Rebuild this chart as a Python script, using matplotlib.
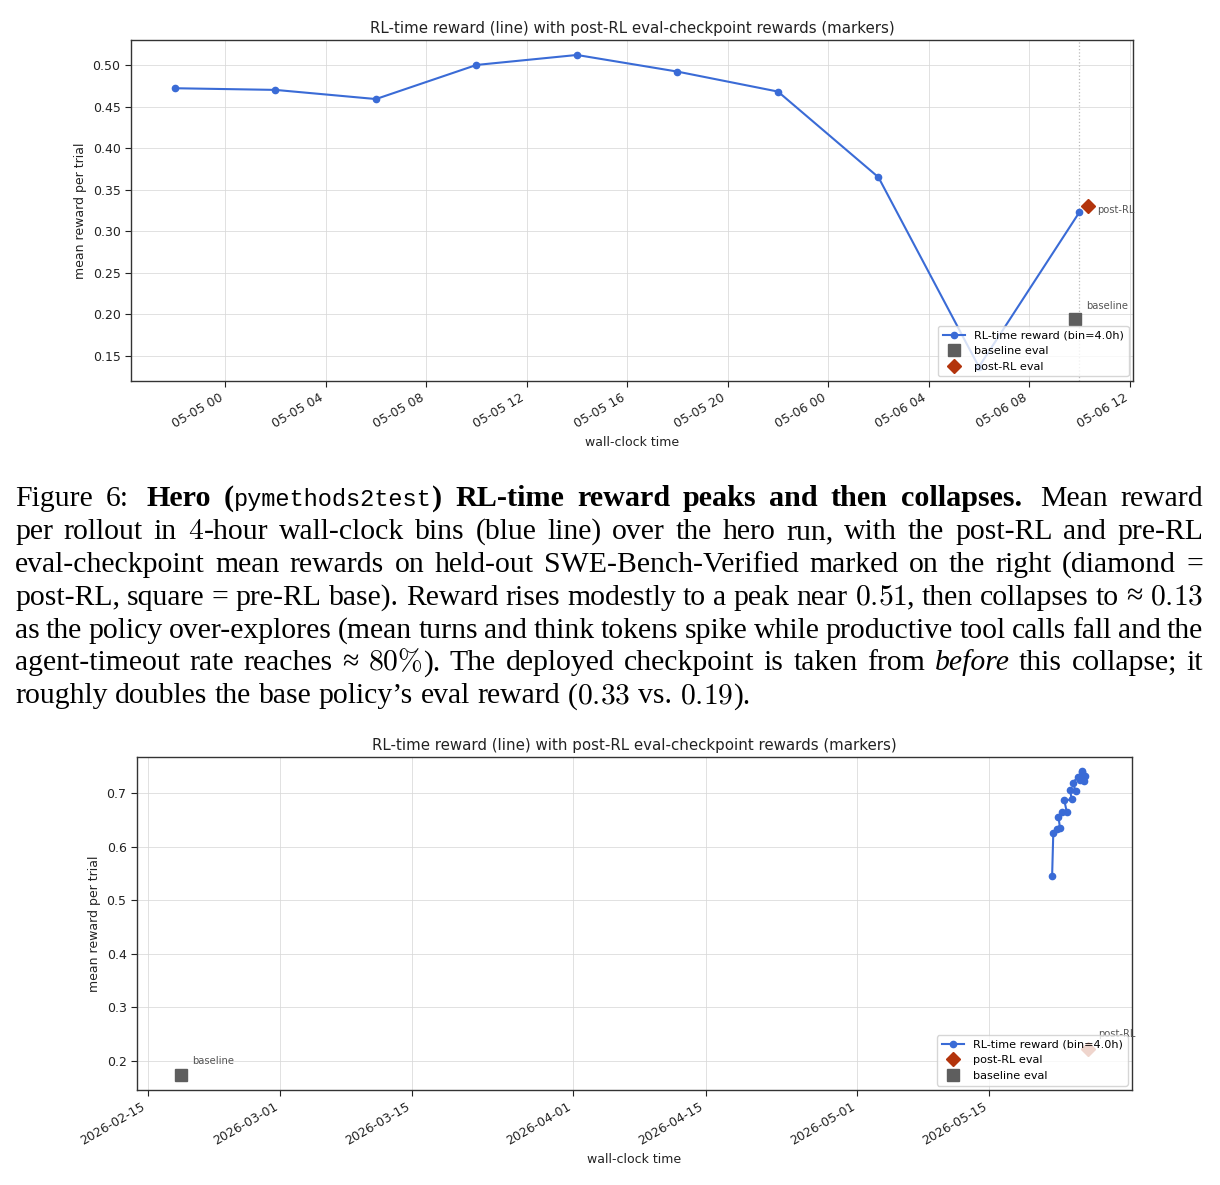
import matplotlib
matplotlib.use("Agg")
import matplotlib.pyplot as plt
import matplotlib.dates as mdates
import pandas as pd

# ── Data: hero run (top panel) ───────────────────────────────────────────────
TOP_RL_TIMES = ["2026-05-04 22:00", "2026-05-05 02:00", "2026-05-05 06:00",
                "2026-05-05 10:00", "2026-05-05 14:00", "2026-05-05 18:00",
                "2026-05-05 22:00", "2026-05-06 02:00", "2026-05-06 06:00",
                "2026-05-06 10:00"]
TOP_RL_REWARD = [0.472, 0.470, 0.459, 0.500, 0.512, 0.492, 0.468, 0.365, 0.137, 0.323]
TOP_BASE_TIME = "2026-05-06 09:50"
TOP_BASE_REWARD = 0.195
TOP_POST_TIME = "2026-05-06 10:20"
TOP_POST_REWARD = 0.330
TOP_XLIM = ("2026-05-04 20:15", "2026-05-06 12:08")
TOP_YLIM = (0.12, 0.53)
TOP_YTICKS = [0.15, 0.20, 0.25, 0.30, 0.35, 0.40, 0.45, 0.50]

# ── Data: second run (bottom panel) ──────────────────────────────────────────
BOT_RL_TIMES = ["2026-05-21 15:00", "2026-05-21 18:00", "2026-05-22 03:00",
                "2026-05-22 11:00", "2026-05-22 07:00", "2026-05-22 15:00",
                "2026-05-23 04:00", "2026-05-22 22:00", "2026-05-23 17:00",
                "2026-05-23 12:00", "2026-05-24 03:00", "2026-05-23 19:00",
                "2026-05-24 09:00", "2026-05-24 18:00", "2026-05-24 22:00",
                "2026-05-24 14:00", "2026-05-25 02:00", "2026-05-24 20:00",
                "2026-05-25 00:00"]
BOT_RL_REWARD = [0.545, 0.626, 0.632, 0.634, 0.656, 0.665, 0.665, 0.686, 0.688,
                 0.706, 0.704, 0.719, 0.730, 0.739, 0.734, 0.724, 0.731, 0.740,
                 0.722]
BOT_BASE_TIME = "2026-02-18 13:00"
BOT_BASE_REWARD = 0.174
BOT_POST_TIME = "2026-05-25 10:00"
BOT_POST_REWARD = 0.222
BOT_XLIM = ("2026-02-13 21:20", "2026-05-30 01:40")
BOT_YLIM = (0.146, 0.767)
BOT_YTICKS = [0.2, 0.3, 0.4, 0.5, 0.6, 0.7]

TITLE = "RL-time reward (line) with post-RL eval-checkpoint rewards (markers)"
RL_LABEL = "RL-time reward (bin=4.0h)"

# ── Caption (justified, drawn word by word) ──────────────────────────────────
# ("sp", n) adds n extra pixels in front of the next word
CAPTION = [
    [("r", "Figure 6: "), ("sp", "5"), ("b", "Hero ("), ("tt", "pymethods2test"),
     ("b", ") RL-time reward peaks and then collapses. "), ("sp", "5"), ("r", "Mean reward")],
    [("r", "per rollout in "), ("m", "$4$"),
     ("r", "-hour wall-clock bins (blue line) over the hero run, with the post-RL and pre-RL")],
    [("r", "eval-checkpoint mean rewards on held-out SWE-Bench-Verified marked on the right (diamond =")],
    [("r", "post-RL, square = pre-RL base). Reward rises modestly to a peak near "), ("m", "$0.51$"),
     ("r", ", then collapses to \u2248 "), ("m", "$0.13$")],
    [("r", "as the policy over-explores (mean turns and think tokens spike while productive tool calls fall and the")],
    [("r", "agent-timeout rate reaches \u2248 "), ("m", r"$80\%$"),
     ("r", "). The deployed checkpoint is taken from "), ("i", "before"),
     ("r", " this collapse; it")],
    [("r", "roughly doubles the base policy\u2019s eval reward ("), ("m", "$0.33$"),
     ("r", " vs. "), ("m", "$0.19$"), ("r", ").")],
]

BLUE = "#3a6bd6"
RED = "#b3340c"
GREY = "#5e5e5e"

CAP_SIZE = 21.4
SERIF = ["Liberation Serif", "DejaVu Serif"]
STYLES = {
    "r":  dict(family=SERIF, size=CAP_SIZE),
    "b":  dict(family=SERIF, size=21.7, weight="bold"),
    "i":  dict(family=SERIF, size=CAP_SIZE, style="italic"),
    "tt": dict(family="Liberation Mono", size=17),
    "m":  dict(family=SERIF, size=CAP_SIZE, math_fontfamily="cm"),
}

FS_TICK = 9
FS_LABEL = 9
FS_TITLE = 10.8
FS_LEGEND = 8.1
FS_NOTE = 7.2


def ts(x):
    return pd.to_datetime(x)


def split_words(segs):
    words, new_word = [], True
    for style, text in segs:
        parts = [text] if style in ("m", "sp") else text.split(" ")
        for k, p in enumerate(parts):
            if k > 0:
                new_word = True
            if p == "":
                continue
            if new_word or not words:
                words.append([])
                new_word = False
            words[-1].append((style, p))
    return words


def draw_caption(fig, x0=15, x1=1203, base=506, step=32.9):
    renderer = fig.canvas.get_renderer()
    W, H = fig.bbox.width, fig.bbox.height
    probe = fig.text(0, 0, "a a", **STYLES["r"])
    probe2 = fig.text(0, 0, "aa", **STYLES["r"])
    space = probe.get_window_extent(renderer).width - probe2.get_window_extent(renderer).width
    probe.remove()
    probe2.remove()
    for i, segs in enumerate(CAPTION):
        words = split_words(segs)
        y = 1 - (base + i * step) / H
        objs, lens = [], []
        for word in words:
            pieces = []
            for style, txt in word:
                if style == "sp":
                    pieces.append((None, float(txt)))
                    continue
                t = fig.text(0, y, txt, ha="left", va="baseline", color="black", **STYLES[style])
                pieces.append((t, t.get_window_extent(renderer).width))
            objs.append(pieces)
            lens.append(sum(w for _, w in pieces))
        if i == len(CAPTION) - 1 or len(words) < 2:
            gap = space
        else:
            gap = (x1 - x0 - sum(lens)) / (len(words) - 1)
        x = x0
        for pieces in objs:
            for t, w in pieces:
                if t is not None:
                    t.set_x(x / W)
                x += w
            x += gap


def style_axes(ax):
    ax.grid(True, color="#d9d9d9", linewidth=0.7, alpha=0.8)
    ax.set_axisbelow(True)
    for s in ax.spines.values():
        s.set_color("#333333")
        s.set_linewidth(1.0)
    ax.tick_params(labelsize=FS_TICK, colors="#222222", length=4)
    ax.set_title(TITLE, fontsize=FS_TITLE, color="#222222", pad=5)
    ax.set_xlabel("wall-clock time", fontsize=FS_LABEL, color="#222222")
    ax.set_ylabel("mean reward per trial", fontsize=FS_LABEL, color="#222222")
    for lab in ax.get_xticklabels():
        lab.set_rotation(30)
        lab.set_ha("right")


fig = plt.figure(figsize=(12.2, 11.85), dpi=100)

# ── Top panel ────────────────────────────────────────────────────────────────
ax1 = fig.add_axes([131 / 1220, 1 - 381 / 1185, 1002 / 1220, 341 / 1185])
top_t = [ts(t) for t in TOP_RL_TIMES]
ax1.axvline(top_t[-1], color="#bbbbbb", linestyle=":", linewidth=0.9, zorder=1)
ax1.plot(top_t, TOP_RL_REWARD, color=BLUE, marker="o", markersize=4.5,
         linewidth=1.5, label=RL_LABEL, zorder=3)
ax1.plot([ts(TOP_BASE_TIME)], [TOP_BASE_REWARD], linestyle="none", marker="s",
         markersize=8, color=GREY, label="baseline eval", zorder=4)
ax1.plot([ts(TOP_POST_TIME)], [TOP_POST_REWARD], linestyle="none", marker="D",
         markersize=7, color=RED, label="post-RL eval", zorder=4)
ax1.annotate("post-RL", (ts(TOP_POST_TIME), TOP_POST_REWARD), xytext=(6.8, -2.9),
             textcoords="offset points", fontsize=FS_NOTE, color="#555555",
             ha="left", va="center")
ax1.annotate("baseline", (ts(TOP_BASE_TIME), TOP_BASE_REWARD), xytext=(7.9, 9.4),
             textcoords="offset points", fontsize=FS_NOTE, color="#555555",
             ha="left", va="center")
ax1.set_xlim(ts(TOP_XLIM[0]), ts(TOP_XLIM[1]))
ax1.set_ylim(*TOP_YLIM)
ax1.set_yticks(TOP_YTICKS)
ax1.yaxis.set_major_formatter(matplotlib.ticker.FormatStrFormatter("%.2f"))
ax1.xaxis.set_major_locator(mdates.HourLocator(byhour=[0, 4, 8, 12, 16, 20]))
ax1.xaxis.set_major_formatter(mdates.DateFormatter("%m-%d %H"))
style_axes(ax1)
ax1.legend(loc="lower right", fontsize=FS_LEGEND, framealpha=0.8, borderaxespad=0.4)

# ── Bottom panel ─────────────────────────────────────────────────────────────
ax2 = fig.add_axes([137 / 1220, 1 - 1090 / 1185, 995 / 1220, 333 / 1185])
ax2.plot([ts(t) for t in BOT_RL_TIMES], BOT_RL_REWARD, color=BLUE, marker="o",
         markersize=4.5, linewidth=1.5, label=RL_LABEL, zorder=3)
ax2.plot([ts(BOT_POST_TIME)], [BOT_POST_REWARD], linestyle="none", marker="D",
         markersize=7, color=RED, label="post-RL eval", zorder=4)
ax2.plot([ts(BOT_BASE_TIME)], [BOT_BASE_REWARD], linestyle="none", marker="s",
         markersize=8, color=GREY, label="baseline eval", zorder=4)
ax2.annotate("post-RL", (ts(BOT_POST_TIME), BOT_POST_REWARD), xytext=(7.2, 10.8),
             textcoords="offset points", fontsize=FS_NOTE, color="#555555",
             ha="left", va="center")
ax2.annotate("baseline", (ts(BOT_BASE_TIME), BOT_BASE_REWARD), xytext=(7.9, 10),
             textcoords="offset points", fontsize=FS_NOTE, color="#555555",
             ha="left", va="center")
ax2.set_xlim(ts(BOT_XLIM[0]), ts(BOT_XLIM[1]))
ax2.set_ylim(*BOT_YLIM)
ax2.set_yticks(BOT_YTICKS)
ax2.yaxis.set_major_formatter(matplotlib.ticker.FormatStrFormatter("%.1f"))
ax2.xaxis.set_major_locator(mdates.DayLocator(bymonthday=[1, 15]))
ax2.xaxis.set_major_formatter(mdates.DateFormatter("%Y-%m-%d"))
style_axes(ax2)
ax2.legend(loc="lower right", fontsize=FS_LEGEND, framealpha=0.8, borderaxespad=0.4)

draw_caption(fig)

fig.savefig("out.png", dpi=100)
